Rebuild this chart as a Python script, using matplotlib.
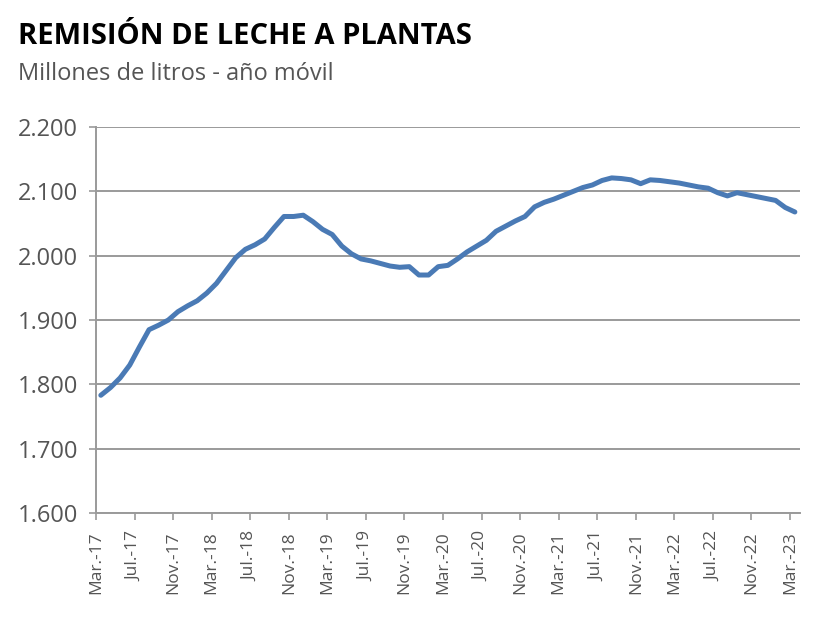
import matplotlib
matplotlib.use("Agg")
import matplotlib.pyplot as plt
import numpy as np

plt.rcParams.update({
    "font.family": ["Open Sans", "DejaVu Sans"],
    "axes.spines.top": False,
    "axes.spines.right": False,
})

LINE = "#4a7ab5"
GRID = "#9a9a9a"
TXT = "#555555"

# monthly rolling-year milk remission, Mar-17 .. Mar-23 (million litres)
values = [
    1783, 1795, 1810, 1830, 1858, 1885, 1892, 1900, 1913, 1922, 1930, 1942,
    1957, 1977, 1997, 2010, 2017, 2026, 2044, 2061, 2061, 2063, 2053, 2041,
    2033, 2015, 2003, 1995, 1992, 1988, 1984, 1982, 1983, 1970, 1970, 1983,
    1985, 1995, 2006, 2015, 2024, 2038, 2046, 2054, 2061, 2076, 2083, 2088,
    2094, 2100, 2106, 2110, 2117, 2121, 2120, 2118, 2112, 2118, 2117, 2115,
    2113, 2110, 2107, 2105, 2098, 2093, 2098, 2095, 2092, 2089, 2086, 2075,
    2068,
]
tick_labels = [
    "Mar.-17", "Jul.-17", "Nov.-17", "Mar.-18", "Jul.-18", "Nov.-18",
    "Mar.-19", "Jul.-19", "Nov.-19", "Mar.-20", "Jul.-20", "Nov.-20",
    "Mar.-21", "Jul.-21", "Nov.-21", "Mar.-22", "Jul.-22", "Nov.-22",
    "Mar.-23",
]
y_ticks = [1600, 1700, 1800, 1900, 2000, 2100, 2200]
y_labels = ["1.600", "1.700", "1.800", "1.900", "2.000", "2.100", "2.200"]

fig = plt.figure(figsize=(8.4, 6.23), dpi=100)
ax = fig.add_axes([0.1143, 0.1766, 0.8377, 0.6194])

x = np.arange(len(values))
ax.plot(x, values, color=LINE, linewidth=3.6, solid_capstyle="round", zorder=3)

ax.set_xlim(-0.5, len(values) - 0.5)
ax.set_ylim(1600, 2200)
ax.set_yticks(y_ticks)
ax.set_yticklabels(y_labels, fontsize=17, color=TXT)
ax.set_xticks(np.arange(0, len(values), 4) - 0.5)
ax.set_xticklabels(tick_labels, rotation=90, fontsize=12.5, color=TXT)

ax.yaxis.grid(True, color=GRID, linewidth=1.4)
ax.set_axisbelow(True)
for s in ("left", "bottom"):
    ax.spines[s].set_color(GRID)
    ax.spines[s].set_linewidth(1.4)
ax.tick_params(axis="both", colors=GRID, length=5, width=1.2)
ax.tick_params(axis="x", labelcolor=TXT, pad=8)
ax.tick_params(axis="y", labelcolor=TXT, pad=8)

fig.text(0.021, 0.942, "REMISIÓN DE LECHE A PLANTAS", fontsize=21,
         fontweight="bold", color="black", va="center")
fig.text(0.021, 0.882, "Millones de litros - año móvil", fontsize=17,
         color=TXT, va="center")

fig.savefig("out.png", dpi=100)
